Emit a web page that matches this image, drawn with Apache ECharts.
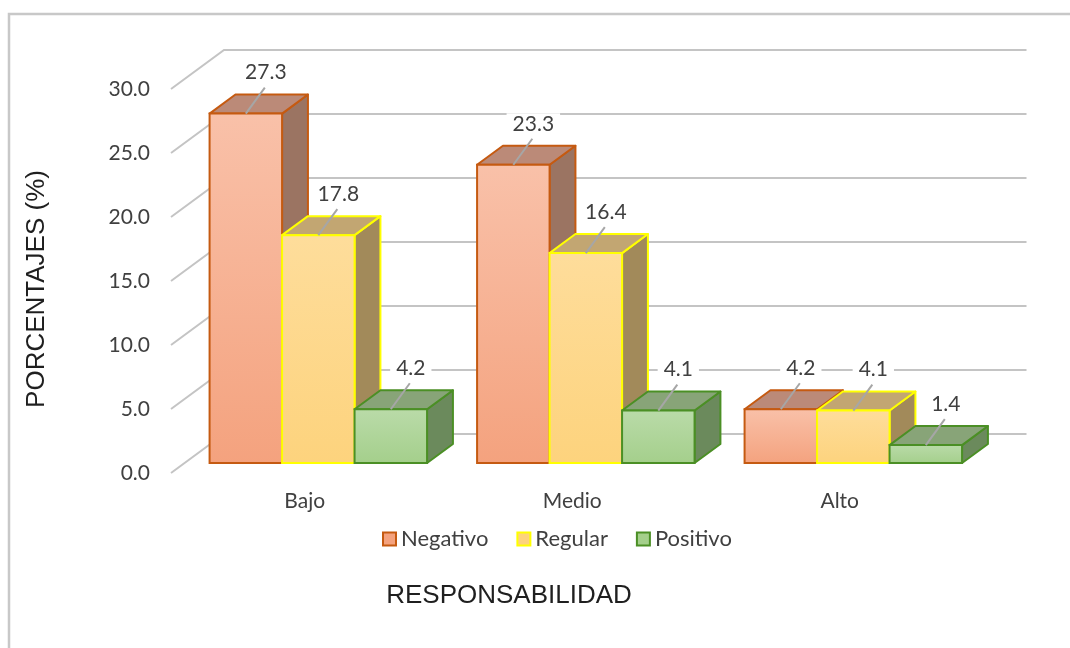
<!DOCTYPE html>
<html>
<head>
<meta charset="utf-8">
<script src="https://cdn.jsdelivr.net/npm/echarts@6/dist/echarts.min.js"></script>
<style>
  html, body { margin: 0; padding: 0; background: #ffffff; }
  #chart { width: 1070px; height: 648px; }
</style>
</head>
<body>
<div id="chart"></div>
<script>
// ---- data ----
const categories = ['Bajo', 'Medio', 'Alto'];
const seriesNames = ['Negativo', 'Regular', 'Positivo'];
const negativo = [27.3, 23.3, 4.2];
const regular = [17.8, 16.4, 4.1];
const positivo = [4.2, 4.1, 1.4];
const yTicks = [0, 5, 10, 15, 20, 25, 30];
const yAxisTitle = 'PORCENTAJES (%)';
const xAxisTitle = 'RESPONSABILIDAD';

// ---- styling / 3D projection ----
const DEPTH = [53, -39];      // full depth vector of the plot box
const T0 = 0.256, T1 = 0.744; // bar depth range
const BAR_FRAC = 0.271;       // width of one bar relative to category band
const NUM_FONT = '21px Lato';

const palettes = [
  { front: ['#f9c1a9', '#f4a27e'], border: '#c55a11', top: '#bb8a78', side: '#9b7462' },
  { front: ['#fedd9b', '#fdd37d'], border: '#ffff00', top: '#c2a672', side: '#a28a5a' },
  { front: ['#badba9', '#a4cf8b'], border: '#4b8f25', top: '#88a478', side: '#6b8a5c' }
];

function barRenderer(si) {
  const p = palettes[si];
  return function (params, api) {
    const ci = api.value(0), v = api.value(1);
    const base = api.coord([ci, 0]);
    const top = api.coord([ci, v]);
    const band = api.size([1, 0])[0];
    const w = band * BAR_FRAC;
    const xl = base[0] - 1.5 * w + si * w + DEPTH[0] * T0;
    const xr = xl + w;
    const yb = base[1] + DEPTH[1] * T0;
    const yt = top[1] + DEPTH[1] * T0;
    const dx = DEPTH[0] * (T1 - T0), dy = DEPTH[1] * (T1 - T0);
    const cx = (xl + xr) / 2;
    const lx = cx + 20, ly = yt - 41;
    return {
      type: 'group',
      children: [
        { type: 'polygon', shape: { points: [[xr, yt], [xr + dx, yt + dy], [xr + dx, yb + dy], [xr, yb]] },
          style: { fill: p.side, stroke: p.border, lineWidth: 2, lineJoin: 'round' } },
        { type: 'polygon', shape: { points: [[xl, yt], [xl + dx, yt + dy], [xr + dx, yt + dy], [xr, yt]] },
          style: { fill: p.top, stroke: p.border, lineWidth: 2, lineJoin: 'round' } },
        { type: 'rect', shape: { x: xl, y: yt, width: w, height: yb - yt },
          style: { fill: new echarts.graphic.LinearGradient(0, 0, 0, 1, [
              { offset: 0, color: p.front[0] }, { offset: 1, color: p.front[1] }]),
            stroke: p.border, lineWidth: 2 } },
        { type: 'text', z2: 5, style: { text: v.toFixed(1), x: lx, y: ly, font: NUM_FONT, fill: '#404040',
            align: 'center', verticalAlign: 'middle', backgroundColor: '#ffffff', padding: [0, 6] } },
        { type: 'line', z2: 6, shape: { x1: lx - 1, y1: ly + 15, x2: cx, y2: yt },
          style: { stroke: '#a6a6a6', lineWidth: 2 } }
      ]
    };
  };
}

function gridRenderer(params, api) {
  const cs = params.coordSys;
  const y = api.coord([0, api.value(1)])[1];
  const x0 = cs.x, x1 = cs.x + cs.width;
  return {
    type: 'polyline',
    shape: { points: [[x0, y], [x0 + DEPTH[0], y + DEPTH[1]], [x1 + DEPTH[0], y + DEPTH[1]]] },
    style: { stroke: '#c4c4c4', lineWidth: 2, fill: null }
  };
}

const seriesData = [negativo, regular, positivo];

const chart = echarts.init(document.getElementById('chart'), null, { renderer: 'canvas' });
chart.setOption({
  backgroundColor: '#ffffff',
  animation: false,
  grid: { left: 171, top: 89, width: 802.5, height: 384 },
  xAxis: {
    type: 'category', data: categories,
    axisLine: { show: false }, axisTick: { show: false },
    axisLabel: { margin: 18, fontFamily: 'Lato', fontSize: 21, color: '#404040' }
  },
  yAxis: {
    type: 'value', min: 0, max: 30, interval: 5,
    axisLine: { show: false }, axisTick: { show: false }, splitLine: { show: false },
    axisLabel: { margin: 21, fontFamily: 'Lato', fontSize: 21, color: '#404040',
      formatter: function (v) { return v.toFixed(1); } }
  },
  legend: {
    left: 382, top: 528, padding: 0, itemWidth: 13, itemHeight: 13, itemGap: 28,
    textStyle: { fontFamily: 'Lato', fontSize: 22, color: '#404040' },
    data: seriesNames.map(function (n, i) {
      return { name: n, icon: 'rect',
        itemStyle: { color: palettes[i].front[1], borderColor: palettes[i].border, borderWidth: 2 } };
    })
  },
  graphic: [
    { type: 'rect', shape: { x: 9, y: 14, width: 1200, height: 800 },
      style: { fill: null, stroke: '#c8c8c8', lineWidth: 2.5 }, silent: true },
    { type: 'text', x: 37, y: 289, rotation: Math.PI / 2,
      style: { text: yAxisTitle, font: '26px "Liberation Sans"', fill: '#1f1f1f', align: 'center', verticalAlign: 'middle' } },
    { type: 'text', x: 509, y: 596,
      style: { text: xAxisTitle, font: '26px "Liberation Sans"', fill: '#1f1f1f', align: 'center', verticalAlign: 'middle' } }
  ],
  series: [
    { type: 'custom', renderItem: gridRenderer, data: yTicks.map(function (t) { return [0, t]; }),
      encode: { x: 0, y: 1 }, silent: true, z: 1 }
  ].concat(seriesNames.map(function (n, si) {
    return {
      type: 'custom', name: n, renderItem: barRenderer(si), z: 2 + si,
      itemStyle: { color: palettes[si].front[1], borderColor: palettes[si].border },
      data: seriesData[si].map(function (v, i) { return [i, v]; }),
      encode: { x: 0, y: 1 }
    };
  }))
});
</script>
</body>
</html>
